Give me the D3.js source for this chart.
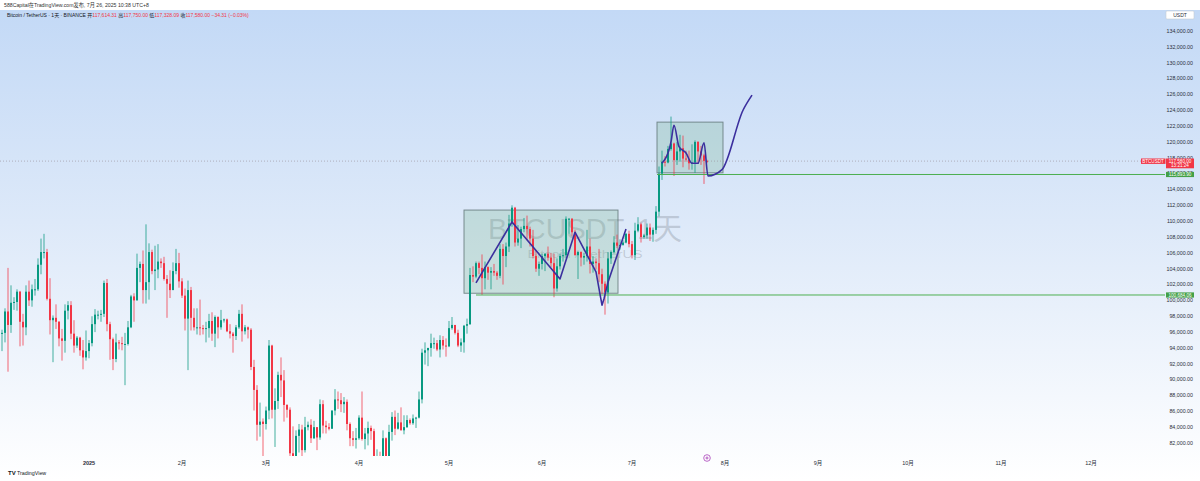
<!DOCTYPE html>
<html><head><meta charset="utf-8">
<script src="https://cdn.jsdelivr.net/npm/d3@7/dist/d3.min.js"></script>
<style>html,body{margin:0;padding:0;background:#fff;overflow:hidden}svg{display:block;font-family:"Liberation Sans","Noto Sans CJK SC",sans-serif}</style>
</head><body><svg id="c" width="1200" height="481"></svg>
<script>
// ---- data (prices in thousands USDT), daily candles from 2024-12-01 ----
const firstDay = "2024-12-01";
const closes = [
97.2,95.8,95.9,98.6,96.9,99.7,99.8,101.1,97.3,96.6,101.1,100.0,101.4,101.4,104.5,106.1,106.1,100.2,97.5,97.8,97.3,95.2,94.9,98.7,99.4,95.8,94.3,95.3,93.7,92.8,93.6,
94.6,97.0,98.2,98.2,98.3,102.2,97.0,95.1,92.6,94.7,94.6,94.5,94.5,96.6,100.5,100.0,104.1,104.6,101.3,102.3,106.1,103.7,103.9,104.9,104.7,102.7,102.1,101.3,103.7,104.7,102.4,
100.6,97.7,101.3,97.8,96.6,96.6,96.5,96.4,96.5,97.4,95.8,97.9,96.6,97.5,97.6,96.1,95.8,95.5,96.6,98.3,96.1,96.6,96.3,91.6,88.7,84.3,84.7,84.4,
86.1,94.3,86.2,87.3,90.6,89.9,86.8,86.2,80.7,78.6,82.9,83.7,81.1,84.0,84.3,82.6,84.0,82.7,86.9,84.2,84.0,83.8,86.1,87.5,87.4,86.9,87.2,84.4,82.6,82.4,82.6,
85.2,82.5,83.2,83.9,83.5,78.4,79.2,76.3,82.6,79.6,83.4,85.3,83.8,84.6,83.6,84.0,84.9,84.5,85.1,85.2,87.5,93.4,93.7,94.0,94.6,94.6,93.8,95.0,94.3,94.2,
96.5,96.9,95.9,94.3,94.7,96.8,97.0,103.2,103.0,104.7,104.1,102.8,104.2,103.5,103.7,103.5,103.1,106.5,105.6,106.8,109.7,111.7,107.3,107.8,109.0,109.4,109.0,107.8,105.6,104.0,104.6,
105.6,105.9,105.4,104.7,101.5,104.3,105.6,105.7,110.3,110.3,108.6,105.7,106.1,105.4,105.6,106.8,104.6,104.9,104.7,103.3,102.1,101.0,105.3,106.1,107.3,106.9,107.0,107.3,108.4,107.1,
105.7,108.8,109.6,108.0,108.2,109.2,108.3,108.9,111.2,116.0,117.5,117.4,119.1,119.8,117.7,118.8,119.2,117.9,117.8,117.3,117.4,120.0,118.8,118.3,117.61,117.58];
const opens = [
96.4,97.2,95.8,95.9,98.6,96.9,99.7,99.8,101.1,97.3,96.6,101.1,100.0,101.4,101.4,104.5,106.1,106.1,100.2,97.5,97.8,97.3,95.2,94.9,98.7,99.4,95.8,94.3,95.3,93.7,92.8,
93.6,94.6,97.0,98.2,98.2,98.3,102.2,97.0,95.1,92.6,94.7,94.6,94.5,94.5,96.6,100.5,100.0,104.1,104.6,101.3,102.3,106.1,103.7,103.9,104.9,104.7,102.7,102.1,101.3,103.7,104.7,
102.4,100.6,97.7,101.3,97.8,96.6,96.6,96.5,96.4,96.5,97.4,95.8,97.9,96.6,97.5,97.6,96.1,95.8,95.5,96.6,98.3,96.1,96.6,96.3,91.6,88.7,84.3,84.7,
84.4,86.1,94.3,86.2,87.3,90.6,89.9,86.8,86.2,80.7,78.6,82.9,83.7,81.1,84.0,84.3,82.6,84.0,82.7,86.9,84.2,84.0,83.8,86.1,87.5,87.4,86.9,87.2,84.4,82.6,82.4,
82.6,85.2,82.5,83.2,83.9,83.5,78.4,79.2,76.3,82.6,79.6,83.4,85.3,83.8,84.6,83.6,84.0,84.9,84.5,85.1,85.2,87.5,93.4,93.7,94.0,94.6,94.6,93.8,95.0,94.3,
94.2,96.5,96.9,95.9,94.3,94.7,96.8,97.0,103.2,103.0,104.7,104.1,102.8,104.2,103.5,103.7,103.5,103.1,106.5,105.6,106.8,109.7,111.7,107.3,107.8,109.0,109.4,109.0,107.8,105.6,104.0,
104.6,105.6,105.9,105.4,104.7,101.5,104.3,105.6,105.7,110.3,110.3,108.6,105.7,106.1,105.4,105.6,106.8,104.6,104.9,104.7,103.3,102.1,101.0,105.3,106.1,107.3,106.9,107.0,107.3,108.4,
107.1,105.7,108.8,109.6,108.0,108.2,109.2,108.3,108.9,111.2,116.0,117.5,117.4,119.1,119.8,117.7,118.8,119.2,117.9,117.8,117.3,117.4,120.0,118.8,118.3,117.61];
const highs = [
97.9,98.2,96.3,99.0,104.1,101.9,100.4,101.4,101.2,98.3,101.9,102.5,102.0,102.7,105.3,107.8,108.4,106.5,102.8,98.1,99.5,97.4,96.4,99.5,99.9,99.9,97.5,95.5,95.4,95.0,96.2,
95.0,98.0,98.9,98.7,98.8,102.5,102.7,97.3,95.3,95.8,95.0,95.4,95.9,97.4,100.7,100.9,105.9,104.9,106.3,109.6,107.2,106.4,106.9,107.1,105.3,105.5,103.2,103.8,104.8,106.5,106.0,
102.8,101.5,102.5,101.7,99.0,99.0,100.1,96.9,97.3,98.3,98.5,98.1,98.0,98.8,97.7,97.7,97.0,96.0,96.9,98.8,99.5,96.9,96.7,96.5,92.5,89.3,87.1,85.1,
86.6,95.0,94.4,88.9,91.0,92.8,91.2,86.9,86.5,84.1,83.6,84.4,84.3,85.3,84.7,85.0,84.8,84.0,87.5,87.4,84.8,84.5,86.1,88.8,88.5,88.3,87.8,87.5,84.6,83.5,83.9,
85.5,88.5,83.9,84.7,84.2,83.8,81.2,80.9,83.6,82.7,84.3,85.9,86.1,85.8,86.5,85.5,85.5,85.1,85.6,85.3,88.5,93.9,94.7,94.0,95.8,95.3,95.0,95.6,95.5,95.2,
97.4,97.9,96.9,96.3,95.2,96.9,97.7,104.1,104.3,104.9,104.9,105.8,104.9,104.3,104.2,104.6,103.7,107.1,107.1,107.3,110.8,112.0,111.8,109.5,109.3,110.4,110.7,109.3,108.9,106.3,104.9,
105.9,105.9,106.8,106.0,105.9,105.3,105.9,106.5,110.6,110.4,110.4,108.9,106.2,106.2,106.0,108.9,107.8,105.6,105.3,106.5,104.0,102.4,106.1,106.3,108.1,108.3,107.7,107.6,108.5,108.8,
107.5,109.8,110.5,109.8,108.4,109.7,109.7,109.2,111.9,116.9,118.9,118.2,119.5,123.2,119.9,120.0,120.9,120.8,118.9,118.9,119.7,120.2,120.1,119.5,118.5,117.75];
const lows = [
95.7,94.4,93.6,94.7,91.0,95.9,98.8,98.7,94.2,94.3,95.6,99.3,99.2,100.6,101.2,103.3,105.3,100.0,95.7,92.2,96.4,94.2,92.4,93.4,97.6,95.1,93.4,94.0,93.0,91.3,92.4,
92.7,94.2,96.0,97.6,97.3,97.9,96.1,92.5,91.2,92.2,93.8,93.7,89.3,94.3,96.5,97.3,100.0,102.3,99.6,99.6,100.1,103.3,101.3,102.8,104.1,102.5,97.8,100.3,101.3,103.3,101.6,
100.3,96.2,91.2,96.2,96.2,95.7,95.6,95.7,94.7,95.3,94.9,94.1,95.2,96.3,97.2,96.0,95.2,93.4,95.0,96.4,94.8,95.7,95.2,91.2,86.1,82.3,82.8,78.3,
83.7,85.0,85.1,81.5,86.3,87.8,84.7,85.2,80.0,77.5,76.6,80.8,79.9,80.8,83.6,82.0,82.5,81.1,82.4,83.2,83.2,83.6,83.8,85.5,86.3,85.9,85.8,83.6,81.6,81.6,81.3,
82.4,82.3,81.2,81.7,82.4,77.2,74.5,76.2,74.6,78.5,78.9,82.3,83.0,83.7,83.6,83.1,83.9,84.3,84.3,83.9,85.1,87.0,91.9,91.7,92.9,93.9,93.6,92.8,93.8,92.9,
94.1,96.3,95.7,94.1,93.5,93.4,95.8,96.9,102.3,102.8,103.3,100.7,101.4,102.6,101.4,103.1,102.6,102.8,102.0,104.2,106.1,109.3,106.8,106.9,106.6,108.6,107.6,106.8,105.3,103.6,103.1,
103.9,103.7,105.0,104.2,100.4,101.1,103.9,104.9,105.3,108.4,108.1,105.7,102.7,104.3,104.5,104.9,103.4,103.5,103.9,102.3,100.8,98.2,99.6,104.6,105.9,106.6,106.4,106.9,107.2,106.7,
105.3,105.1,108.6,107.3,107.8,107.8,107.5,107.4,108.4,110.6,115.2,116.9,117.3,118.9,115.7,117.1,117.5,116.8,117.5,116.5,116.5,116.1,117.3,117.1,114.7,117.33];

const priceTicks = d3.range(82, 135, 2);
const monthTicks = ["2025-01-01","2025-02-01","2025-03-01","2025-04-01","2025-05-01","2025-06-01","2025-07-01","2025-08-01","2025-09-01","2025-10-01","2025-11-01","2025-12-01"];
const monthLabels = ["2025","2月","3月","4月","5月","6月","7月","8月","9月","10月","11月","12月"];

// drawings
const boxes = [
  {x0:"2025-05-06", x1:"2025-06-26T08:00Z", p0:100.9, p1:111.4},
  {x0:"2025-07-09T08:00Z", x1:"2025-07-31T08:00Z", p0:116.1, p1:122.5}
];
const levels = [
  {from:"2025-05-10", price:100.68, label:"100,684.06"},
  {from:"2025-07-09T08:00Z", price:115.89, label:"115,893.90"}
];
const path1 = [["2025-05-10",102.2],["2025-05-22",109.9],["2025-06-07",102.7],["2025-06-12",108.6],["2025-06-19",103.6],["2025-06-20T08:00Z",100.8],["2025-06-21",99.4],["2025-06-21T16:00Z",100.2],["2025-06-23",102.3],["2025-06-29",109.0]];
const path2 = [["2025-07-11",117.3],["2025-07-14",120.0],["2025-07-15",122.1],["2025-07-16T16:00Z",119.4],["2025-07-19",118.6],["2025-07-21",117.3],["2025-07-23",117.3],["2025-07-25",119.9],["2025-07-26T08:00Z",115.7],["2025-07-31",116.5],["2025-08-07",124.0],["2025-08-10",125.9]];
const lastPrice = 117.58;

// ---- drawing ----
const svg = d3.select("#c");
const W = 1200, H = 481, paneR = 1165, paneT = 10, paneB = 456;
const pd = s => d3.isoParse(s.length === 10 ? s + "T00:00:00Z" : s);
const x = d3.scaleUtc().domain([pd("2025-01-01"), pd("2025-12-01")]).range([89, 1091]);
const y = d3.scaleLinear().domain([82, 134]).range([443, 31]);
const up = "#089981", dn = "#f23645";

const defs = svg.append("defs");
const g = defs.append("linearGradient").attr("id","bg").attr("x1",0).attr("y1",0).attr("x2",0).attr("y2",1);
g.append("stop").attr("offset",0).attr("stop-color","#c3d9f6");
g.append("stop").attr("offset",0.45).attr("stop-color","#dde9f9");
g.append("stop").attr("offset",1).attr("stop-color","#ffffff");
defs.append("clipPath").attr("id","pane").append("rect").attr("x",0).attr("y",paneT).attr("width",paneR).attr("height",paneB-paneT);

svg.append("rect").attr("width",W).attr("height",H).attr("fill","#fff");
svg.append("rect").attr("y",paneT).attr("width",W).attr("height",H-paneT).attr("fill","url(#bg)");

const pane = svg.append("g").attr("clip-path","url(#pane)");

// watermark
pane.append("text").attr("x",585).attr("y",239).attr("text-anchor","middle")
  .attr("font-size",30).attr("fill","rgba(110,118,130,0.28)")
  .attr("textLength",194).attr("lengthAdjust","spacingAndGlyphs").text("BTCUSDT, 1天");
pane.append("text").attr("x",585).attr("y",258).attr("text-anchor","middle")
  .attr("font-size",11).attr("fill","rgba(110,118,130,0.28)")
  .attr("textLength",115).attr("lengthAdjust","spacingAndGlyphs").text("Bitcoin / TetherUS");

// boxes
boxes.forEach(b => {
  pane.append("rect").attr("x",x(pd(b.x0))).attr("y",y(b.p1))
    .attr("width",x(pd(b.x1))-x(pd(b.x0))).attr("height",y(b.p0)-y(b.p1))
    .attr("fill","rgba(96,168,120,0.22)").attr("stroke","rgba(90,110,110,0.75)").attr("stroke-width",1);
});

// current price line
pane.append("line").attr("x1",0).attr("x2",paneR).attr("y1",y(lastPrice)).attr("y2",y(lastPrice))
  .attr("stroke","rgba(150,140,150,0.6)").attr("stroke-width",1).attr("stroke-dasharray","1,2");

// candles
const t0 = pd(firstDay);
const candles = closes.map((c,i) => ({d:d3.utcDay.offset(t0,i), o:opens[i], h:highs[i], l:lows[i], c}));
const cg = pane.append("g");
candles.forEach(k => {
  const cx = x(k.d), col = k.c >= k.o ? up : dn;
  cg.append("rect").attr("x",cx-0.5).attr("width",1).attr("y",y(k.h)).attr("height",Math.max(0.5,y(k.l)-y(k.h))).attr("fill",col).attr("opacity",0.75);
  const top = y(Math.max(k.o,k.c)), bot = y(Math.min(k.o,k.c));
  cg.append("rect").attr("x",cx-1).attr("width",2).attr("y",top).attr("height",Math.max(1,bot-top)).attr("fill",col);
});

// horizontal levels
levels.forEach(L => {
  pane.append("line").attr("x1",x(pd(L.from))).attr("x2",paneR).attr("y1",y(L.price)).attr("y2",y(L.price))
    .attr("stroke","#4caf50").attr("stroke-width",1);
});

// drawn paths
const line1 = d3.line().x(d => x(pd(d[0]))).y(d => y(d[1])).curve(d3.curveLinear);
const line2 = d3.line().x(d => x(pd(d[0]))).y(d => y(d[1])).curve(d3.curveMonotoneX);
pane.append("path").attr("d",line1(path1)).attr("fill","none")
  .attr("stroke","#3b2f9e").attr("stroke-width",1.6).attr("stroke-linejoin","round");
pane.append("path").attr("d",line2(path2)).attr("fill","none")
  .attr("stroke","#3b2f9e").attr("stroke-width",1.6).attr("stroke-linejoin","round");

// price axis
const fmt = d3.format(",.2f");
svg.append("g").selectAll("text").data(priceTicks).join("text")
  .attr("x",1193).attr("y",d => y(d)).attr("dy","0.35em").attr("text-anchor","end")
  .attr("font-size",5.3).attr("fill","#2a2e39").text(d => fmt(d*1000));

// USDT box
svg.append("rect").attr("x",1166).attr("y",11).attr("width",28).attr("height",8).attr("rx",1)
  .attr("fill","#fff").attr("stroke","#c8ccd4").attr("stroke-width",0.6);
svg.append("text").attr("x",1180).attr("y",15).attr("dy","0.35em").attr("text-anchor","middle")
  .attr("font-size",5).attr("fill","#2a2e39").text("USDT");

// level labels
levels.forEach(L => {
  svg.append("rect").attr("x",1166).attr("y",y(L.price)-2.6).attr("width",28).attr("height",5.2).attr("fill","#43a047");
  svg.append("text").attr("x",1180).attr("y",y(L.price)).attr("dy","0.35em").attr("text-anchor","middle")
    .attr("font-size",4.6).attr("fill","#fff").text(L.label);
});
// last price labels
const yl = y(lastPrice);
svg.append("rect").attr("x",1141).attr("y",yl-2.6).attr("width",24.5).attr("height",5.4).attr("fill","#f23645");
svg.append("text").attr("x",1153).attr("y",yl).attr("dy","0.35em").attr("text-anchor","middle").attr("font-size",4.6).attr("fill","#fff").text("BTCUSDT");
svg.append("rect").attr("x",1166).attr("y",yl-2.6).attr("width",28).attr("height",9.8).attr("fill","#f23645");
svg.append("text").attr("x",1180).attr("y",yl).attr("dy","0.35em").attr("text-anchor","middle").attr("font-size",4.6).attr("fill","#fff").text(fmt(lastPrice*1000));
svg.append("text").attr("x",1180).attr("y",yl+4.6).attr("dy","0.35em").attr("text-anchor","middle").attr("font-size",4.6).attr("fill","#fff").text("13:21:24");

// time axis
svg.append("g").selectAll("text").data(monthTicks).join("text")
  .attr("x",d => x(pd(d))).attr("y",463).attr("dy","0.35em").attr("text-anchor","middle")
  .attr("font-size",5.5).attr("fill","#2a2e39").attr("font-weight",(d,i) => i===0 ? "bold" : "normal")
  .text((d,i) => monthLabels[i]);

// event marker
const ex = x(pd("2025-07-26"));
svg.append("circle").attr("cx",ex).attr("cy",458).attr("r",3.3).attr("fill","#fff").attr("stroke","#9c27b0").attr("stroke-width",0.7);
svg.append("path").attr("d",`M${ex-1.6},458H${ex+1.6}M${ex},456.4V459.6`).attr("stroke","#9c27b0").attr("stroke-width",0.7);

// header
svg.append("text").attr("x",4).attr("y",5).attr("dy","0.35em").attr("font-size",5.2).attr("fill","#333")
  .text("588Capital在TradingView.com发布, 7月 26, 2025 10:38 UTC+8");
const lg = svg.append("text").attr("x",7).attr("y",15.5).attr("dy","0.35em").attr("font-size",5).attr("fill","#131722");
lg.append("tspan").text("Bitcoin / TetherUS · 1天 · BINANCE  ");
[["开","117,614.31"],["高","117,750.00"],["低","117,328.09"],["收","117,580.00"]].forEach(([k,v]) => {
  lg.append("tspan").attr("fill","#131722").text("  " + k);
  lg.append("tspan").attr("fill",dn).text(v + " ");
});
lg.append("tspan").attr("fill",dn).text(" −34.31 (−0.03%)");

// logo
svg.append("text").attr("x",8).attr("y",473).attr("dy","0.35em").attr("font-size",6).attr("font-weight","bold").attr("fill","#131722").text("TV");
svg.append("text").attr("x",17).attr("y",473).attr("dy","0.35em").attr("font-size",5.3).attr("fill","#131722").text("TradingView");
</script></body></html>
